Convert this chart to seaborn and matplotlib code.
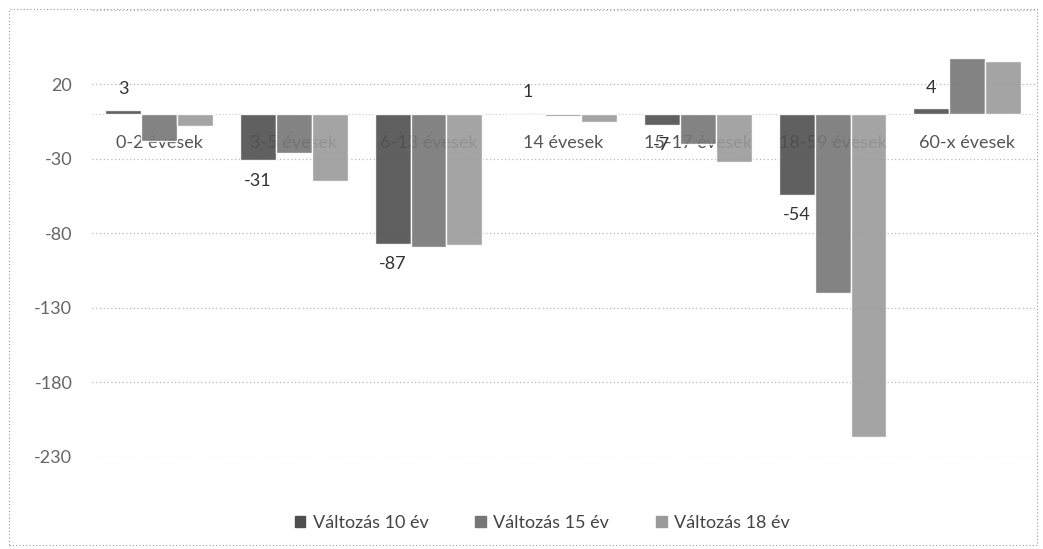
import matplotlib
matplotlib.use("Agg")
import matplotlib.pyplot as plt
import seaborn as sns
import pandas as pd
from matplotlib.patches import Rectangle

categories = ["0-2 évesek", "3-5 évesek", "6-13 évesek", "14 évesek",
              "15-17 évesek", "18-59 évesek", "60-x évesek"]
series_names = ["Változás 10 év", "Változás 15 év", "Változás 18 év"]
change_10 = [3, -31, -87, 1, -7, -54, 4]
change_15 = [-18, -26, -89, -1, -20, -120, 38]
change_18 = [-8, -45, -88, -5, -32, -217, 36]
y_ticks = [20, -30, -80, -130, -180, -230]

sns.set_theme(style="white")
plt.rcParams["font.family"] = ["Lato", "DejaVu Sans"]

rows = []
for name, vals in zip(series_names, [change_10, change_15, change_18]):
    for c, v in zip(categories, vals):
        rows.append({"cat": c, "series": name, "value": v})
df = pd.DataFrame(rows)

fig = plt.figure(figsize=(10.43, 5.49), dpi=100)
ax = fig.add_axes([0.088, 0.168, 0.904, 0.814])

palette = ["#4f4f4f", "#767676", "#9a9a9a"]
sns.barplot(data=df, x="cat", y="value", hue="series", order=categories,
            hue_order=series_names, palette=palette, width=0.8, ax=ax,
            saturation=1, alpha=0.9, zorder=3, legend=True)

ax.set_ylim(-230, 70)
ax.set_xlim(-0.5, len(categories) - 0.5)
ax.set_yticks(y_ticks)
ax.set_yticklabels([str(t) for t in y_ticks], color="#666666", fontsize=13)
ax.tick_params(axis="y", length=0, pad=14)
for t in y_ticks + [70]:
    ax.axhline(t, color="#b8b8b8", linestyle=(0, (1, 2)), linewidth=0.9, zorder=0)
ax.axhline(0, color="#c8c8c8", linestyle=(0, (1, 2)), linewidth=0.8, zorder=0)

ax.set_xticks([])
ax.set_xlabel("")
ax.set_ylabel("")
for s in ax.spines.values():
    s.set_visible(False)

# category labels near zero line, beneath bars
for i, c in enumerate(categories):
    ax.annotate(c, xy=(i, 0), xytext=(0, -21), textcoords="offset points",
                ha="center", va="center", fontsize=13, color="#555555", zorder=1)

# data labels for first series
ax.bar_label(ax.containers[0], labels=[str(v) for v in change_10], padding=9,
             fontsize=13, color="#333333")

ax.get_legend().remove()
handles = [plt.Rectangle((0, 0), 1, 1, color=col) for col in palette]
fig.legend(handles, series_names, loc="center", bbox_to_anchor=(0.52, 0.048),
           ncol=3, frameon=False, fontsize=13, handlelength=0.6, handleheight=0.6,
           handletextpad=0.4, columnspacing=2.6, labelcolor="#444444")

fig.patches.append(Rectangle((0.009, 0.008), 0.985, 0.975, transform=fig.transFigure,
                             fill=False, edgecolor="#999999", linestyle=(0, (1, 2)),
                             linewidth=0.8))

fig.savefig("out.png", dpi=100, facecolor="white")
